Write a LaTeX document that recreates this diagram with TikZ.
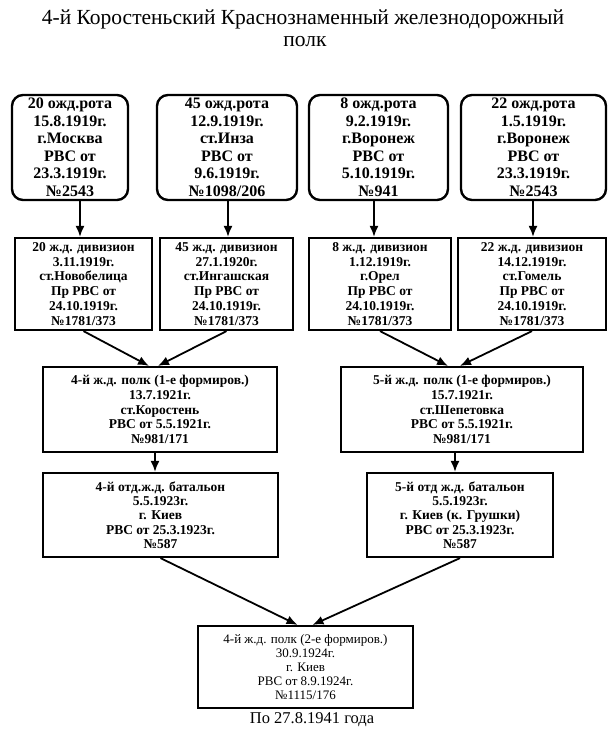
\documentclass[tikz,border=0pt]{standalone}
\usepackage{fontspec}
\setmainfont{Liberation Serif}
\usetikzlibrary{arrows.meta}
\begin{document}
\begin{tikzpicture}[x=1pt,y=-1pt,
  rbox/.style={draw,line width=2.4pt,rounded corners=11pt,align=center,inner sep=0pt,
    font=\fontsize{16}{17.5}\selectfont\bfseries},
  sbox/.style={draw,line width=2.2pt,align=center,inner sep=0pt,
    font=\fontsize{13.5}{14.9}\selectfont\bfseries},
  pbox/.style={draw,line width=2.2pt,align=center,inner sep=0pt,
    font=\fontsize{13.5}{14.6}\selectfont\bfseries},
  qbox/.style={draw,line width=2.2pt,align=center,inner sep=0pt,
    font=\fontsize{13.5}{14.3}\selectfont\bfseries},
  bbox/.style={draw,line width=2.2pt,align=center,inner sep=0pt,
    font=\fontsize{13}{14.2}\selectfont},
  arr/.style={line width=1.8pt,-{Latex[length=11pt,width=9pt]}},
]
\fill[white] (0,0) rectangle (612,739);
\useasboundingbox (0,0) rectangle (612,739);

\node[font=\fontsize{21.5}{24}\selectfont] (title1) at (303,19) {4-й Коростеньский Краснознаменный железнодорожный};
\node[font=\fontsize{21.5}{24}\selectfont] (title2) at (305,42) {полк};

% top row
\node[rbox,minimum width=116pt,minimum height=105pt] (t1) at (70,147.5)
  {20 ожд.рота\\15.8.1919г.\\г.Москва\\РВС от\\23.3.1919г.\\№2543};
\node[rbox,minimum width=140pt,minimum height=105pt] (t2) at (227,147.5)
  {45 ожд.рота\\12.9.1919г.\\ст.Инза\\РВС от\\9.6.1919г.\\№1098/206};
\node[rbox,minimum width=139pt,minimum height=105pt] (t3) at (378.5,147.5)
  {8 ожд.рота\\9.2.1919г.\\г.Воронеж\\РВС от\\5.10.1919г.\\№941};
\node[rbox,minimum width=145pt,minimum height=105pt] (t4) at (533.5,147.5)
  {22 ожд.рота\\1.5.1919г.\\г.Воронеж\\РВС от\\23.3.1919г.\\№2543};

% second row
\node[sbox,minimum width=137pt,minimum height=92pt] (s1) at (83.5,284)
  {20 ж.д. дивизион\\3.11.1919г.\\ст.Новобелица\\Пр РВС от\\24.10.1919г.\\№1781/373};
\node[sbox,minimum width=133pt,minimum height=92pt] (s2) at (226.5,284)
  {45 ж.д. дивизион\\27.1.1920г.\\ст.Ингашская\\Пр РВС от\\24.10.1919г.\\№1781/373};
\node[sbox,minimum width=142pt,minimum height=92pt] (s3) at (380,284)
  {8 ж.д. дивизион\\1.12.1919г.\\г.Орел\\Пр РВС от\\24.10.1919г.\\№1781/373};
\node[sbox,minimum width=148pt,minimum height=92pt] (s4) at (532,284)
  {22 ж.д. дивизион\\14.12.1919г.\\ст.Гомель\\Пр РВС от\\24.10.1919г.\\№1781/373};

% third row
\node[pbox,minimum width=234pt,minimum height=85pt] (r1) at (160,409.5)
  {4-й ж.д. полк (1-е формиров.)\\13.7.1921г.\\ст.Коростень\\РВС от 5.5.1921г.\\№981/171};
\node[pbox,minimum width=242pt,minimum height=85pt] (r2) at (462,409.5)
  {5-й ж.д. полк (1-е формиров.)\\15.7.1921г.\\ст.Шепетовка\\РВС от 5.5.1921г.\\№981/171};

% fourth row
\node[qbox,minimum width=235pt,minimum height=84pt] (f1) at (160.5,515)
  {4-й отд.ж.д. батальон\\5.5.1923г.\\г. Киев\\РВС от 25.3.1923г.\\№587};
\node[qbox,minimum width=186pt,minimum height=84pt] (f2) at (460,515)
  {5-й отд ж.д. батальон\\5.5.1923г.\\г. Киев (к. Грушки)\\РВС от 25.3.1923г.\\№587};

% bottom
\node[bbox,minimum width=215pt,minimum height=82pt] (b) at (305.5,667)
  {4-й ж.д. полк (2-е формиров.)\\30.9.1924г.\\г. Киев\\РВС от 8.9.1924г.\\№1115/176};
\node[font=\fontsize{16.5}{20}\selectfont] (foot) at (312,720) {По 27.8.1941 года};

% connectors
\draw[arr] ([xshift=-3.5pt]s1.north |- t1.south) -- ([xshift=-3.5pt]s1.north);
\draw[arr] ([xshift=1.5pt]s2.north |- t2.south) -- ([xshift=1.5pt]s2.north);
\draw[arr] ([xshift=-6pt]s3.north |- t3.south) -- ([xshift=-6pt]s3.north);
\draw[arr] ([xshift=1pt]s4.north |- t4.south) -- ([xshift=1pt]s4.north);

\draw[arr] (s1.south) -- ([xshift=-11pt]r1.north);
\draw[arr] (s2.south) -- ([xshift=-2pt]r1.north);
\draw[arr] (s3.south) -- ([xshift=-14pt]r2.north);
\draw[arr] (s4.south) -- ([xshift=-2pt]r2.north);

\draw[arr] ([xshift=-5pt]r1.south) -- ([xshift=-5pt]r1.south |- f1.north);
\draw[arr] ([xshift=-7pt]r2.south) -- ([xshift=-7pt]r2.south |- f2.north);

\draw[arr] (f1.south) -- ([xshift=-8pt]b.north);
\draw[arr] (f2.south) -- ([xshift=7pt]b.north);
\end{tikzpicture}
\end{document}
